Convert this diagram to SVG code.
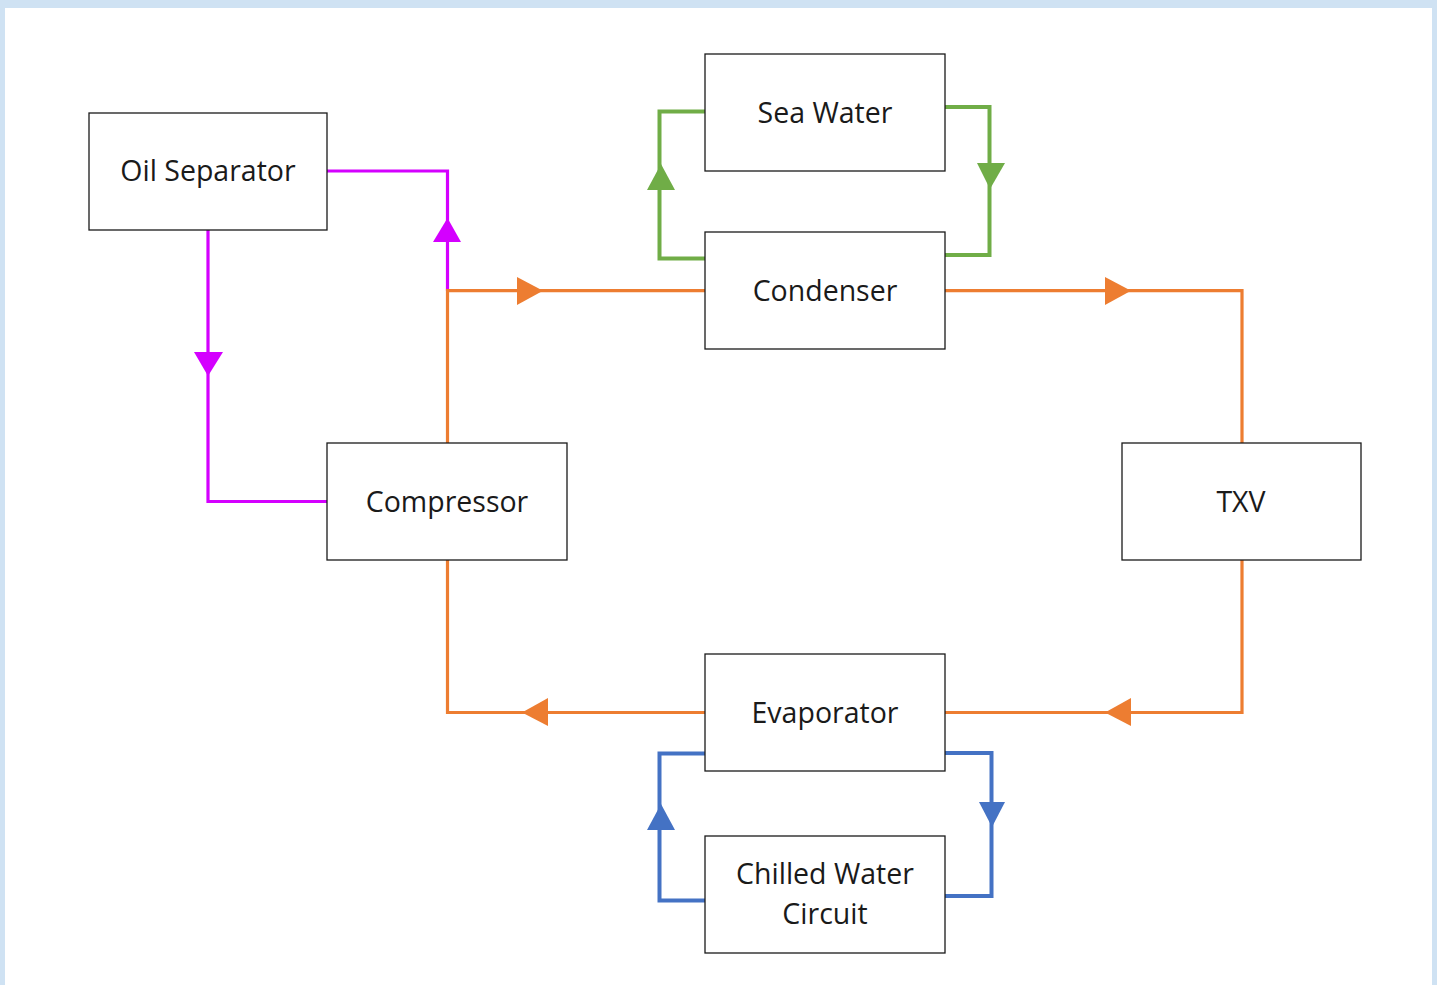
<svg xmlns="http://www.w3.org/2000/svg" width="1437" height="985" viewBox="0 0 1437 985">
<style>
.box{fill:#fff;stroke:#1a1a1a;stroke-width:1.3}
.lbl{font-family:"Open Sans","Noto Sans",sans-serif;font-size:28.5px;fill:#1a1a1a;text-anchor:middle}
.ln{fill:none;stroke-width:3.2;stroke-linejoin:miter}
.thk{stroke-width:4}
.or{stroke:#ED7D31}.orf{fill:#ED7D31}
.mg{stroke:#D400FF}.mgf{fill:#D400FF}
.gr{stroke:#70AD47}.grf{fill:#70AD47}
.bl{stroke:#4472C4}.blf{fill:#4472C4}
</style>
<rect x="0" y="0" width="1437" height="985" fill="#CFE2F3"/>
<rect x="5" y="8" width="1427" height="977" fill="#fff"/>
<g id="connectors">
<path class="ln mg" d="M327,171 H447.5 V291"/>
<polygon class="mgf" points="447.5,218 433,242 461,242"/>
<path class="ln mg" d="M208,230 V501.5 H327"/>
<polygon class="mgf" points="208,376 194,352 223,352"/>
<path class="ln or" d="M447.5,443 V290.7 H705"/>
<polygon class="orf" points="543,290.7 517,277 517,305"/>
<path class="ln or" d="M945,290.7 H1242 V443"/>
<polygon class="orf" points="1131,290.7 1105,277 1105,305"/>
<path class="ln or" d="M1242,560 V712.5 H945"/>
<polygon class="orf" points="1105,712.5 1131,698 1131,726"/>
<path class="ln or" d="M705,712.5 H447.5 V560"/>
<polygon class="orf" points="522,712.5 548,698 548,726"/>
<path class="ln thk gr" d="M705,111.5 H659.5 V258.5 H705"/>
<polygon class="grf" points="661,164 647,190 675,190"/>
<path class="ln thk gr" d="M945,107 H989.5 V255 H945"/>
<polygon class="grf" points="990,189 977,163 1005,163"/>
<path class="ln thk bl" d="M705,753.5 H659.5 V900.5 H705"/>
<polygon class="blf" points="661,804 647,830 675,830"/>
<path class="ln thk bl" d="M945,753 H991.5 V896 H943"/>
<polygon class="blf" points="992,827 979,802 1005,802"/>
</g>
<g id="oil-separator"><rect class="box" x="89" y="113" width="238" height="117"/><text class="lbl" x="208" y="181">Oil Separator</text></g>
<g id="sea-water"><rect class="box" x="705" y="54" width="240" height="117"/><text class="lbl" x="825" y="123">Sea Water</text></g>
<g id="condenser"><rect class="box" x="705" y="232" width="240" height="117"/><text class="lbl" x="825" y="301">Condenser</text></g>
<g id="compressor"><rect class="box" x="327" y="443" width="240" height="117"/><text class="lbl" x="447" y="512">Compressor</text></g>
<g id="txv"><rect class="box" x="1122" y="443" width="239" height="117"/><text class="lbl" x="1241" y="512">TXV</text></g>
<g id="evaporator"><rect class="box" x="705" y="654" width="240" height="117"/><text class="lbl" x="825" y="723">Evaporator</text></g>
<g id="chilled-water-circuit"><rect class="box" x="705" y="836" width="240" height="117"/><text class="lbl" x="825" y="884">Chilled Water</text><text class="lbl" x="825" y="924">Circuit</text></g>
</svg>
